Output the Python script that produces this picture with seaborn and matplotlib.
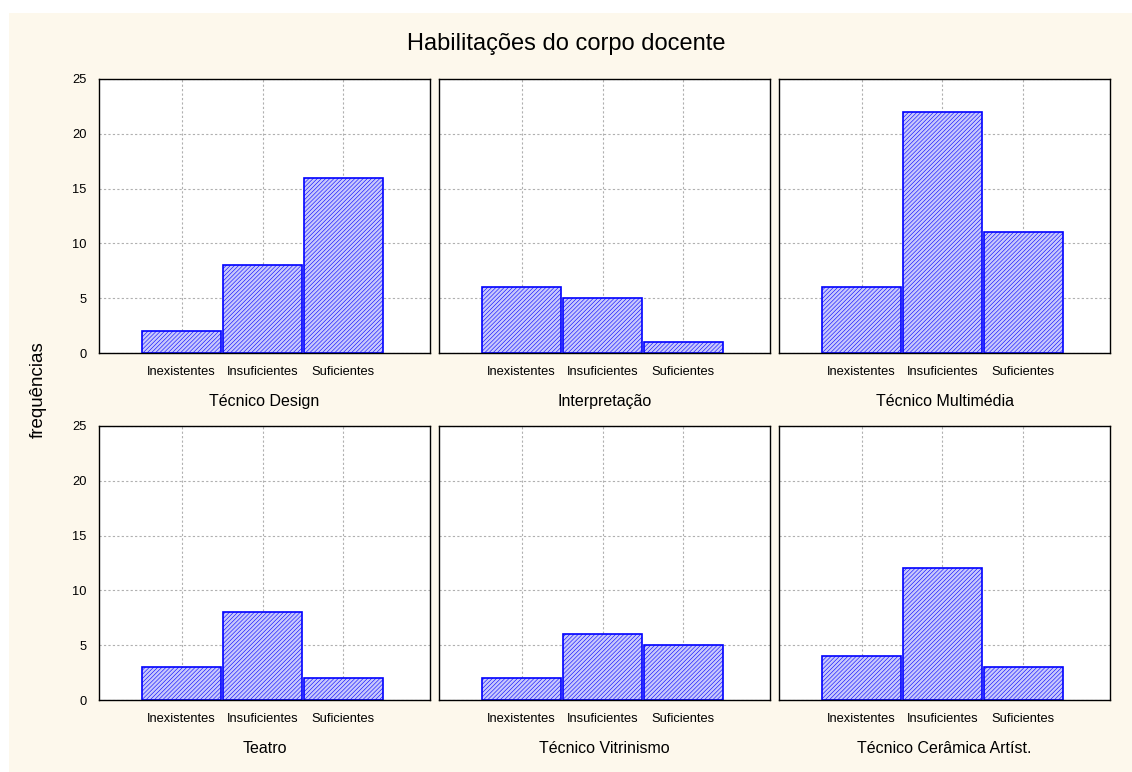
import matplotlib
matplotlib.use("Agg")
import matplotlib.pyplot as plt
import seaborn as sns
import pandas as pd
from matplotlib.patches import Rectangle

categories = ["Inexistentes", "Insuficientes", "Suficientes"]
courses = ["Técnico Design", "Interpretação", "Técnico Multimédia",
           "Teatro", "Técnico Vitrinismo", "Técnico Cerâmica Artíst."]
design = [2, 8, 16]
interpretacao = [6, 5, 1]
multimedia = [6, 22, 11]
teatro = [3, 8, 2]
vitrinismo = [2, 6, 5]
ceramica = [4, 12, 3]

series = [design, interpretacao, multimedia, teatro, vitrinismo, ceramica]

sns.set_style("white")
plt.rcParams["font.family"] = ["Liberation Sans", "DejaVu Sans"]
plt.rcParams["text.color"] = "black"
plt.rcParams["hatch.color"] = "#b2b2f5"
plt.rcParams["hatch.linewidth"] = 0.4

bg = "#fdf8ec"
fig, axes = plt.subplots(2, 3, figsize=(11.32, 7.72), dpi=100, sharey=True)
fig.patch.set_facecolor("white")
# cream panel behind everything, white strip at top and left
fig.patches.append(Rectangle((9 / 1132, 0), 1, 1 - 13 / 772,
                             transform=fig.transFigure, facecolor=bg,
                             edgecolor="none", zorder=-10))
fig.subplots_adjust(left=0.0875, right=0.9806, top=0.898, bottom=0.093,
                    wspace=0.027, hspace=0.264)

for ax, name, vals in zip(axes.flat, courses, series):
    df = pd.DataFrame({"cat": categories, "freq": vals})
    sns.barplot(data=df, x="cat", y="freq", ax=ax, width=0.98,
                color="#c8c8fc", edgecolor="#0000ff", linewidth=1.2,
                saturation=1)
    for p in ax.patches:
        p.set_hatch("////////")
    ax.set_xlim(-1.02, 3.07)
    ax.set_ylim(0, 25)
    ax.set_yticks([0, 5, 10, 15, 20, 25])
    ax.set_axisbelow(True)
    ax.grid(True, color="#b0b0b0", linestyle=(0, (2, 2)), linewidth=0.8)
    ax.set_facecolor("white")
    for s in ax.spines.values():
        s.set_color("black")
        s.set_linewidth(1)
    ax.tick_params(direction="in", length=4, labelsize=9.3, colors="black",
                   pad=9)
    ax.set_xlabel(name, fontsize=11.5, labelpad=12, color="black")
    ax.set_ylabel("")

fig.suptitle("Habilitações do corpo docente", fontsize=17, y=0.957,
             color="black")
fig.text(0.034, 0.495, "frequências", rotation=90, fontsize=13.5,
         ha="center", va="center", color="black")

fig.savefig("out.png", dpi=100, facecolor="white")
